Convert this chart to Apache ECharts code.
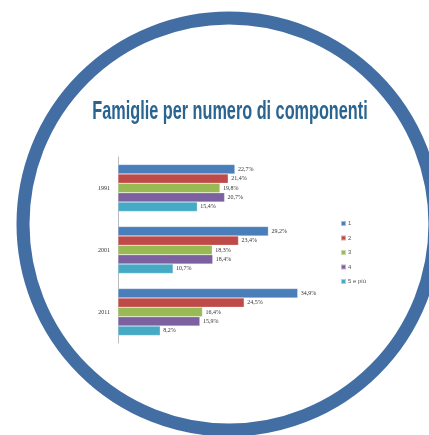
<!DOCTYPE html>
<html>
<head>
<meta charset="utf-8">
<script src="https://cdn.jsdelivr.net/npm/echarts@6/dist/echarts.min.js"></script>
<style>
  html, body { margin: 0; padding: 0; background: #fff; }
  #main { width: 429px; height: 435px; }
</style>
</head>
<body>
<div id="main"></div>
<script>
var years = ['1991', '2001', '2011']
var seriesNames = ['1', '2', '3', '4', '5 e più']
var s1 = [22.7, 29.2, 34.9]
var s2 = [21.4, 23.4, 24.5]
var s3 = [19.8, 18.3, 16.4]
var s4 = [20.7, 18.4, 15.9]
var s5 = [15.4, 10.7, 8.2]
var colors = ['#4a7ebb', '#be4b48', '#98b954', '#7d60a0', '#46aac5']

var chart = echarts.init(document.getElementById('main'))

var allData = [s1, s2, s3, s4, s5]
var series = allData.map(function (d, i) {
  return {
    name: seriesNames[i],
    type: 'bar',
    data: d,
    barWidth: 9.4,
    barGap: '0%',
    itemStyle: { color: colors[i], borderColor: 'rgba(255,255,255,0.5)', borderWidth: 0.5 },
    label: {
      show: true,
      position: 'right',
      distance: 3,
      fontSize: 6,
      fontFamily: 'Liberation Serif',
      color: '#333',
      formatter: function (p) { return p.value.toFixed(1).replace('.', ',') + '%' }
    }
  }
})

chart.setOption({
  animation: false,
  backgroundColor: '#fff',
  graphic: [
    {
      type: 'circle',
      shape: { cx: 229, cy: 224, r: 206 },
      style: { fill: 'none', stroke: '#436ea3', lineWidth: 13 },
      silent: true
    },
    {
      type: 'text',
      x: 230,
      y: 112,
      scaleX: 0.65,
      style: {
        text: 'Famiglie per numero di componenti',
        font: 'bold 25px "Liberation Sans"',
        fill: '#2a6592',
        align: 'center',
        verticalAlign: 'middle'
      }
    }
  ],
  legend: {
    data: seriesNames,
    orient: 'vertical',
    left: 335,
    top: 215,
    itemWidth: 5,
    itemHeight: 5,
    itemGap: 7.5,
    icon: 'rect',
    textStyle: { fontSize: 6, color: '#555', fontFamily: 'Liberation Sans', padding: [0, 0, 0, -3] }
  },
  grid: { left: 118, top: 157, width: 206, height: 186 },
  xAxis: {
    type: 'value',
    min: 0,
    max: 40,
    show: false
  },
  yAxis: {
    type: 'category',
    data: years,
    inverse: true,
    axisLine: { lineStyle: { color: '#bbb' } },
    axisTick: { length: 3, lineStyle: { color: '#bbb' } },
    axisLabel: { fontSize: 6, margin: 8, color: '#333', fontFamily: 'Liberation Serif' }
  },
  series: series
})
</script>
</body>
</html>
